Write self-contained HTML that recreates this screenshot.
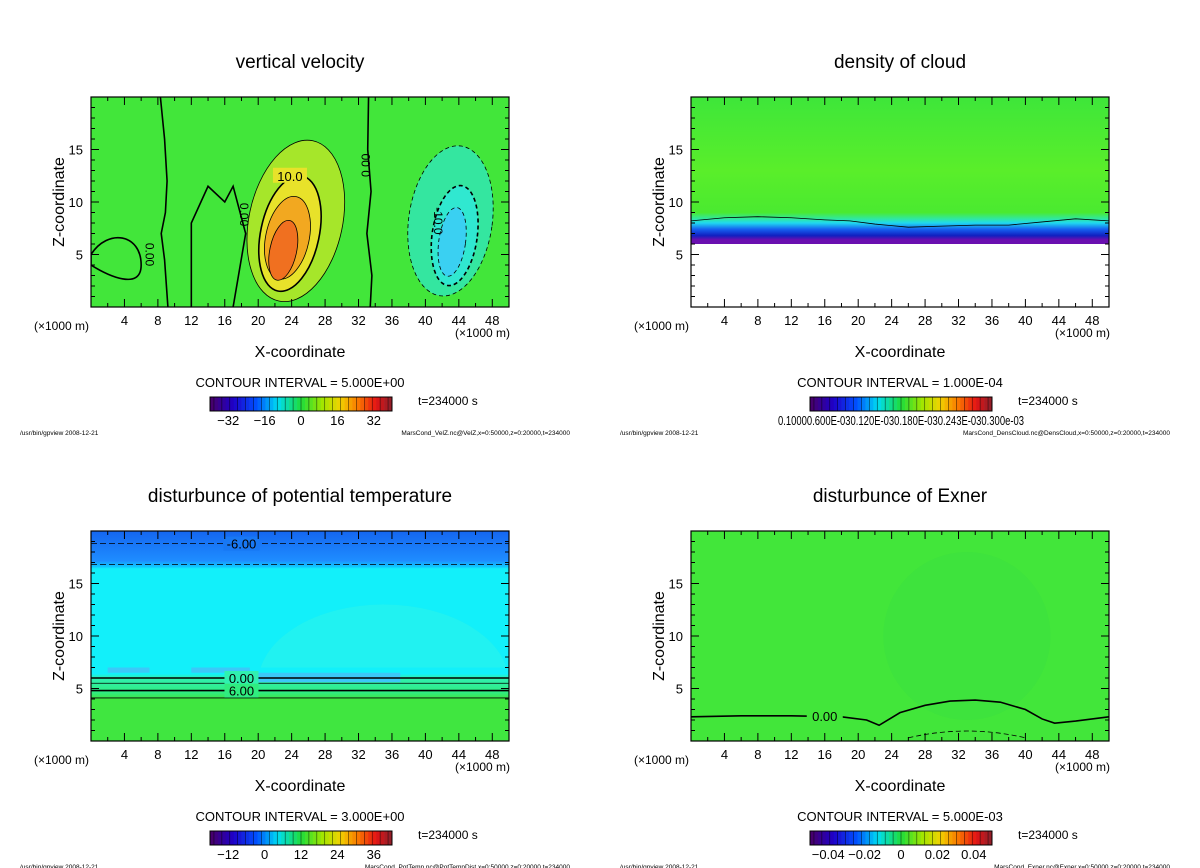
<!DOCTYPE html>
<html><head><meta charset="utf-8"><style>
html,body{margin:0;padding:0;background:#fff;}
svg{display:block;font-family:"Liberation Sans","DejaVu Sans",sans-serif;}
</style></head><body>
<svg id="fig" width="1200" height="868" viewBox="0 0 1200 868" xmlns="http://www.w3.org/2000/svg">
<defs>
<linearGradient id="g2" x1="0" y1="0" x2="0" y2="1">
<stop offset="0" stop-color="#3ee63a"/><stop offset="0.35" stop-color="#5aee2a"/><stop offset="0.55" stop-color="#4aea30"/><stop offset="0.58" stop-color="#30e8a0"/><stop offset="0.6" stop-color="#20d8f0"/><stop offset="0.63" stop-color="#1560f0"/><stop offset="0.66" stop-color="#1020c0"/><stop offset="0.68" stop-color="#6a10b0"/><stop offset="0.7" stop-color="#6a10b0"/><stop offset="0.7" stop-color="#ffffff"/><stop offset="1" stop-color="#ffffff"/>
</linearGradient>
<linearGradient id="g3" x1="0" y1="0" x2="0" y2="1">
<stop offset="0" stop-color="#1466f0"/><stop offset="0.14" stop-color="#1e8cff"/><stop offset="0.17" stop-color="#10c8ff"/><stop offset="0.18" stop-color="#12f0fa"/><stop offset="0.68" stop-color="#12f0fa"/><stop offset="0.7" stop-color="#30f0b0"/><stop offset="0.77" stop-color="#30ec80"/><stop offset="0.8" stop-color="#40e640"/><stop offset="1" stop-color="#40e640"/>
</linearGradient>
</defs>
<g id="root"></g>
</svg>
<script>
// ---- data ----
const xTicks = [4,8,12,16,20,24,28,32,36,40,44,48];
const zTicks = [5,10,15];
const panelTitles = ["vertical velocity","density of cloud","disturbunce of potential temperature","disturbunce of Exner"];
const contourIntervals = ["5.000E+00","1.000E-04","3.000E+00","5.000E-03"];
const cbLabels1 = ["-32","-16","0","16","32"];
const cbValues1 = [-32,-16,0,16,32];
const cbLabels3 = ["-12","0","12","24","36"];
const cbValues3 = [-12,0,12,24,36];
const cbLabels4 = ["-0.04","-0.02","0","0.02","0.04"];
const cbValues4 = [-0.04,-0.02,0,0.02,0.04];
const footers = ["MarsCond_VelZ.nc@VelZ,x=0:50000,z=0:20000,t=234000","MarsCond_DensCloud.nc@DensCloud,x=0:50000,z=0:20000,t=234000","MarsCond_PotTemp.nc@PotTempDist,x=0:50000,z=0:20000,t=234000","MarsCond_Exner.nc@Exner,x=0:50000,z=0:20000,t=234000"];
const upX = [24.5,23.8,23.5,23.0];
const upZ = [8.2,7.0,6.6,5.4];
const upRX = [5.6,3.5,2.6,1.6];
const upRZ = [7.8,5.6,4.0,2.9];
const upColor = ["#a6e62a","#e8e22a","#f2a820","#f07020"];
const dnX = [43,43.5,43.2];
const dnZ = [8.2,6.8,6.2];
const dnRX = [5.0,2.7,1.6];
const dnRZ = [7.2,4.8,3.3];
const dnColor = ["#34e6a0","#30e8d0","#3ad0f2"];
const exX = [0,6,12,18,21,22.5,25,28,31,34,37,40,42,43.5,46,50];
const exZ = [2.3,2.4,2.4,2.3,2.0,1.5,2.7,3.4,3.8,3.9,3.7,3.0,2.1,1.7,1.9,2.3];
const ptLines = [18.8,16.8,6.0,5.5,4.8,4.1];
const ptDash = [true,true,false,false,false,false];
const clX = [0,4,8,12,16,19,22,26,30,34,38,42,46,50];
const clZ = [8.2,8.5,8.6,8.5,8.3,8.2,7.9,7.6,7.7,7.8,7.8,8.1,8.4,8.2];
const v0aX = [8.3,8.8,9.1,8.9,8.4,8.8,9.2];
const v0aZ = [20,16,12,9,7,4.5,0];
const v0bX = [33.2,33.1,33.5,33.0,33.6,33.4];
const v0bZ = [20,15,11,7,3,0];

const NS="http://www.w3.org/2000/svg";
const root=document.getElementById('root');
function mk(tag,attrs,parent,text){const e=document.createElementNS(NS,tag);for(const k in attrs)e.setAttribute(k,attrs[k]);if(text!==undefined)e.textContent=text;(parent||root).appendChild(e);return e;}

const panels=[{ox:0,oy:0},{ox:600,oy:0},{ox:0,oy:434},{ox:600,oy:434}];
const L=91,R=509,T=97,B=307;
function sx(p,x){return p.ox+L+(x/50)*(R-L);}
function sz(p,z){return p.oy+B-(z/20)*(B-T);}
function rainbow(t){
  const stops=[[0,[70,0,110]],[0.12,[30,0,200]],[0.25,[0,80,255]],[0.37,[0,220,240]],[0.5,[30,220,60]],[0.62,[160,230,0]],[0.72,[240,210,0]],[0.82,[250,120,0]],[0.92,[230,20,20]],[1,[150,30,40]]];
  for(let i=1;i<stops.length;i++){if(t<=stops[i][0]){const a=stops[i-1],b=stops[i];const f=(t-a[0])/(b[0]-a[0]);return 'rgb('+a[1].map((v,j)=>Math.round(v+(b[1][j]-v)*f)).join(',')+')';}}
  return 'rgb(150,30,40)';
}

panels.forEach((p,i)=>{
  const g=mk('g',{});
  
  
  const x0=p.ox+L,y0=p.oy+T,w=R-L,h=B-T;
  let fill='#42e63a';
  if(i===1)fill='url(#g2)';
  if(i===2)fill='url(#g3)';
  const bg=mk('rect',{x:x0,y:y0,width:w,height:h,fill:fill},g);
  
  
  const clipId='clip'+i;
  const cp=mk('clipPath',{id:clipId},g);mk('rect',{x:x0,y:y0,width:w,height:h},cp);
  const inner=mk('g',{'clip-path':'url(#'+clipId+')'},g);
  const pxPerX=w/50,pxPerZ=h/20;
  if(i===0){
    upX.forEach((cx,k)=>{
      const e=mk('ellipse',{cx:sx(p,cx),cy:sz(p,upZ[k]),rx:upRX[k]*pxPerX,ry:upRZ[k]*pxPerZ,fill:upColor[k],stroke:'#000','stroke-width':k===1?1.6:0.8,transform:'rotate(12 '+sx(p,cx)+' '+sz(p,upZ[k])+')'},inner);
      
      
    });
    dnX.forEach((cx,k)=>{
      const e=mk('ellipse',{cx:sx(p,cx),cy:sz(p,dnZ[k]),rx:dnRX[k]*pxPerX,ry:dnRZ[k]*pxPerZ,fill:dnColor[k],stroke:'#000','stroke-width':k===1?1.6:0.8,'stroke-dasharray':'4 3',transform:'rotate(8 '+sx(p,cx)+' '+sz(p,dnZ[k])+')'},inner);
      
      
    });
    [[v0aX,v0aZ],[v0bX,v0bZ]].forEach(([xs,zs],k)=>{
      const pl=mk('polyline',{points:xs.map((x,j)=>sx(p,x)+','+sz(p,zs[j])).join(' '),fill:'none',stroke:'#000','stroke-width':1.6},inner);
      
      
    });
    const b1=mk('path',{d:'M'+sx(p,0)+','+sz(p,5)+' C'+sx(p,2)+','+sz(p,7.5)+' '+sx(p,6)+','+sz(p,7)+' '+sx(p,6)+','+sz(p,4)+' C'+sx(p,6)+','+sz(p,1.5)+' '+sx(p,2)+','+sz(p,3)+' '+sx(p,0)+','+sz(p,4)+'Z',fill:'none',stroke:'#000','stroke-width':1.6},inner);
    
    const b2=mk('path',{d:'M'+sx(p,12)+','+sz(p,0)+' L'+sx(p,12)+','+sz(p,8)+' L'+sx(p,14)+','+sz(p,11.5)+' L'+sx(p,16)+','+sz(p,10)+' L'+sx(p,17)+','+sz(p,11.5)+' L'+sx(p,18.5)+','+sz(p,7)+' L'+sx(p,17)+','+sz(p,0),fill:'none',stroke:'#000','stroke-width':1.6},inner);
    
    mk('rect',{x:sx(p,23.8)-17,y:sz(p,12.5)-8,width:34,height:15,fill:'#e8e22a'},inner);
    mk('text',{x:sx(p,23.8),y:sz(p,12.5)+5,'font-size':13,'text-anchor':'middle'},inner,'10.0');
    mk('text',{x:sx(p,33.4),y:sz(p,13.5),'font-size':12,'text-anchor':'middle',transform:'rotate(-90 '+sx(p,33.4)+' '+sz(p,13.5)+')'},inner,'0.00');
    mk('text',{x:sx(p,41),y:sz(p,8.2),'font-size':12,'text-anchor':'middle',transform:'rotate(90 '+sx(p,41)+' '+sz(p,8.2)+')'},inner,'-10.0');
    mk('text',{x:sx(p,17.8),y:sz(p,8.8),'font-size':12,'text-anchor':'middle',transform:'rotate(90 '+sx(p,17.8)+' '+sz(p,8.8)+')'},inner,'0.00');
    mk('text',{x:sx(p,6.5),y:sz(p,5),'font-size':12,'text-anchor':'middle',transform:'rotate(90 '+sx(p,6.5)+' '+sz(p,5)+')'},inner,'0.00');
  }
  if(i===1){
    const pl=mk('polyline',{points:clX.map((x,j)=>sx(p,x)+','+sz(p,clZ[j])).join(' '),fill:'none',stroke:'#000','stroke-width':0.8},inner);
    
    
  }
  if(i===2){
    const cp2=mk('clipPath',{id:'clipBub'},g);mk('rect',{x:x0,y:sz(p,16),width:w,height:(16-7)*pxPerZ},cp2);
    mk('ellipse',{cx:sx(p,35),cy:sz(p,5.5),rx:15*pxPerX,ry:7.5*pxPerZ,fill:'#30f4e8',opacity:0.5,'clip-path':'url(#clipBub)'},inner);
    [[2,7,5,0.5],[12,7,7,0.5],[19,6.5,18,0.9]].forEach(([a,z,ww,hh])=>mk('rect',{x:sx(p,a),y:sz(p,z),width:ww*pxPerX,height:hh*pxPerZ,fill:'#3cc8f8'},inner));
    ptLines.forEach((z,k)=>{
      const l=mk('line',{x1:x0,x2:x0+w,y1:sz(p,z),y2:sz(p,z),stroke:'#000','stroke-width':k===2||k===4?1.6:0.8,'stroke-dasharray':ptDash[k]?'6 3':'none'},inner);
      
      
    });
    mk('rect',{x:sx(p,18)-18,y:sz(p,18.8)-7,width:36,height:14,fill:'#1878f4'},inner);
    mk('text',{x:sx(p,18),y:sz(p,18.8)+5,'font-size':13,'text-anchor':'middle'},inner,'-6.00');
    mk('rect',{x:sx(p,18)-17,y:sz(p,6)-7,width:34,height:14,fill:'#30f0b0'},inner);
    mk('text',{x:sx(p,18),y:sz(p,6)+5,'font-size':13,'text-anchor':'middle'},inner,'0.00');
    mk('rect',{x:sx(p,18)-17,y:sz(p,4.8)-7,width:34,height:14,fill:'#30ec80'},inner);
    mk('text',{x:sx(p,18),y:sz(p,4.8)+5,'font-size':13,'text-anchor':'middle'},inner,'6.00');
  }
  if(i===3){
    mk('ellipse',{cx:sx(p,33),cy:sz(p,10),rx:10*pxPerX,ry:8*pxPerZ,fill:'#3ae040',opacity:0.5},inner);
    const pl=mk('polyline',{points:exX.map((x,j)=>sx(p,x)+','+sz(p,exZ[j])).join(' '),fill:'none',stroke:'#000','stroke-width':1.6},inner);
    
    
    mk('path',{d:'M'+sx(p,26)+','+sz(p,0.3)+' Q'+sx(p,33)+','+sz(p,1.6)+' '+sx(p,40)+','+sz(p,0.3),fill:'none',stroke:'#000','stroke-width':0.8,'stroke-dasharray':'5 3'},inner);
    mk('rect',{x:sx(p,16)-18,y:sz(p,2.4)-7,width:36,height:14,fill:'#42e63a'},inner);
    mk('text',{x:sx(p,16),y:sz(p,2.4)+5,'font-size':13,'text-anchor':'middle'},inner,'0.00');
  }
  mk('rect',{x:x0,y:y0,width:w,height:h,fill:'none',stroke:'#000','stroke-width':1.2},g);
  for(let x=2;x<50;x+=2){
    const len=(x%4===0)?8:4;
    mk('line',{x1:sx(p,x),x2:sx(p,x),y1:y0+h,y2:y0+h-len,stroke:'#000'},g);
    mk('line',{x1:sx(p,x),x2:sx(p,x),y1:y0,y2:y0+len,stroke:'#000'},g);
  }
  for(let z=1;z<20;z++){
    const len=(z%5===0)?8:4;
    mk('line',{x1:x0,x2:x0+len,y1:sz(p,z),y2:sz(p,z),stroke:'#000'},g);
    mk('line',{x1:x0+w,x2:x0+w-len,y1:sz(p,z),y2:sz(p,z),stroke:'#000'},g);
  }
  xTicks.forEach(x=>{const t=mk('text',{x:sx(p,x),y:y0+h+18,'font-size':13,'text-anchor':'middle'},g,String(x));});
  zTicks.forEach(z=>{const t=mk('text',{x:x0-8,y:sz(p,z)+5,'font-size':13,'text-anchor':'end'},g,String(z));});
  const tt=mk('text',{x:p.ox+300,y:p.oy+68,'font-size':19,'text-anchor':'middle'},g,panelTitles[i]);
  
  const yl=mk('text',{x:p.ox+64,y:p.oy+202,'font-size':16,'text-anchor':'middle',transform:'rotate(-90 '+(p.ox+64)+' '+(p.oy+202)+')'},g,'Z-coordinate');
  
  const xl=mk('text',{x:p.ox+300,y:p.oy+357,'font-size':16,'text-anchor':'middle'},g,'X-coordinate');
  
  mk('text',{x:p.ox+34,y:p.oy+330,'font-size':12},g,'(×1000 m)');
  mk('text',{x:p.ox+455,y:p.oy+337,'font-size':12},g,'(×1000 m)');
  const ci=mk('text',{x:p.ox+300,y:p.oy+387,'font-size':13,'text-anchor':'middle'},g,'CONTOUR INTERVAL = '+contourIntervals[i]);
  
  const cbx=p.ox+210,cby=p.oy+397,cbw=182,cbh=14,n=46;
  const cb=mk('g',{},g);
  
  for(let k=0;k<n;k++){
    mk('rect',{x:cbx+k*cbw/n,y:cby,width:cbw/n+0.3,height:cbh,fill:rainbow(k/(n-1))},cb);
    if(k%2===1)mk('line',{x1:cbx+k*cbw/n,x2:cbx+k*cbw/n,y1:cby,y2:cby+cbh,stroke:'#000','stroke-width':0.6,opacity:0.7},cb);
  }
  mk('rect',{x:cbx,y:cby,width:cbw,height:cbh,fill:'none',stroke:'#000'},cb);
  let labs=null,vals=null,lo=0,hi=1;
  if(i===0){labs=cbLabels1;vals=cbValues1;lo=-40;hi=40;}
  if(i===2){labs=cbLabels3;vals=cbValues3;lo=-18;hi=42;}
  if(i===3){labs=cbLabels4;vals=cbValues4;lo=-0.05;hi=0.05;}
  if(labs){labs.forEach((s,k)=>{const tx=mk('text',{x:cbx+(vals[k]-lo)/(hi-lo)*cbw,y:cby+cbh+14,'font-size':13,'text-anchor':'middle'},g,s.replace('-','\u2212'));});}
  else{mk('text',{x:cbx-32,y:cby+cbh+14,'font-size':13,textLength:246,lengthAdjust:'spacingAndGlyphs'},g,'0.10000.600E-030.120E-030.180E-030.243E-030.300e-03');}
  mk('text',{x:p.ox+418,y:p.oy+405,'font-size':12},g,'t=234000 s');
  mk('text',{x:p.ox+20,y:p.oy+435,'font-size':6.5},g,'/usr/bin/gpview   2008-12-21');
  mk('text',{x:p.ox+570,y:p.oy+435,'font-size':6.5,'text-anchor':'end'},g,footers[i]);
});
</script>
</body></html>
